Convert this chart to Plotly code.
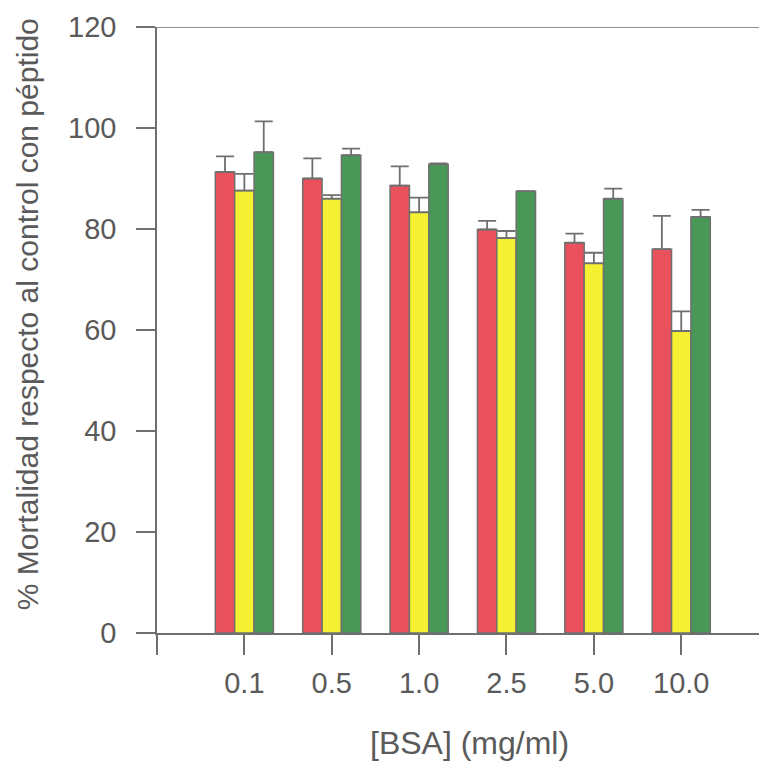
import plotly.graph_objects as go

# BSA concentrations (mg/ml) shown on the x axis
categories = ["0.1", "0.5", "1.0", "2.5", "5.0", "10.0"]

# % mortality relative to the peptide control, with upper SEM
red_values = [91.3, 90.0, 88.6, 79.9, 77.3, 76.0]
red_errors = [3.1, 4.0, 3.8, 1.7, 1.8, 6.6]
yellow_values = [87.6, 86.0, 83.3, 78.2, 73.2, 59.8]
yellow_errors = [3.3, 0.7, 2.9, 1.4, 2.1, 3.9]
green_values = [95.2, 94.6, 92.8, 87.5, 86.0, 82.4]
green_errors = [6.1, 1.3, 0.2, 0.0, 2.0, 1.4]

y_ticks = [0, 20, 40, 60, 80, 100, 120]

GREY = "#6f6f6f"
TEXT = "#5a5a5a"
FONT = "Liberation Sans, Arial, sans-serif"

positions = list(range(1, len(categories) + 1))

fig = go.Figure()
for values, errors, color in [
    (red_values, red_errors, "#e9525d"),
    (yellow_values, yellow_errors, "#f6f032"),
    (green_values, green_errors, "#4a9858"),
]:
    fig.add_trace(go.Bar(
        x=positions,
        y=values,
        marker=dict(color=color, line=dict(color=GREY, width=1.5)),
        error_y=dict(type="data", symmetric=False, array=errors,
                     arrayminus=[0] * len(errors),
                     color=GREY, thickness=1.8, width=9),
        showlegend=False,
    ))

fig.update_layout(
    width=759, height=764,
    margin=dict(l=157, r=0, t=27, b=131),
    paper_bgcolor="white", plot_bgcolor="white",
    barmode="group", bargap=0.335, bargroupgap=0,
    font=dict(family=FONT, color=TEXT, size=29),
)

fig.update_xaxes(
    range=[0, 6.89],
    tickmode="array",
    tickvals=[0] + positions,
    ticktext=[""] + categories,
    ticks="outside", ticklen=20, tickwidth=1.5, tickcolor=GREY,
    showline=True, linecolor=GREY, linewidth=1.5,
    showgrid=False, zeroline=False,
    tickfont=dict(family=FONT, size=29, color=TEXT),
    ticklabelstandoff=3,
)

fig.update_yaxes(
    range=[0, 120],
    tickmode="array", tickvals=y_ticks,
    ticks="outside", ticklen=19, tickwidth=1.5, tickcolor=GREY,
    showline=True, linecolor=GREY, linewidth=1.5,
    showgrid=False, zeroline=False,
    tickfont=dict(family=FONT, size=29, color=TEXT),
    ticklabelstandoff=14,
)

# top border line at 120
fig.add_shape(type="line", xref="paper", yref="y", x0=0, x1=1, y0=120, y1=120,
              line=dict(color=GREY, width=1.5))

fig.add_annotation(
    text="% Mortalidad respecto al control con péptido",
    xref="paper", yref="paper", x=-0.216, y=0.526,
    xanchor="center", yanchor="middle", textangle=-90, showarrow=False,
    font=dict(family=FONT, size=30, color=TEXT),
)
fig.add_annotation(
    text="[BSA] (mg/ml)",
    xref="paper", yref="paper", x=0.519, y=-0.182,
    xanchor="center", yanchor="middle", showarrow=False,
    font=dict(family=FONT, size=32, color=TEXT),
)

fig.write_html("out.html")
